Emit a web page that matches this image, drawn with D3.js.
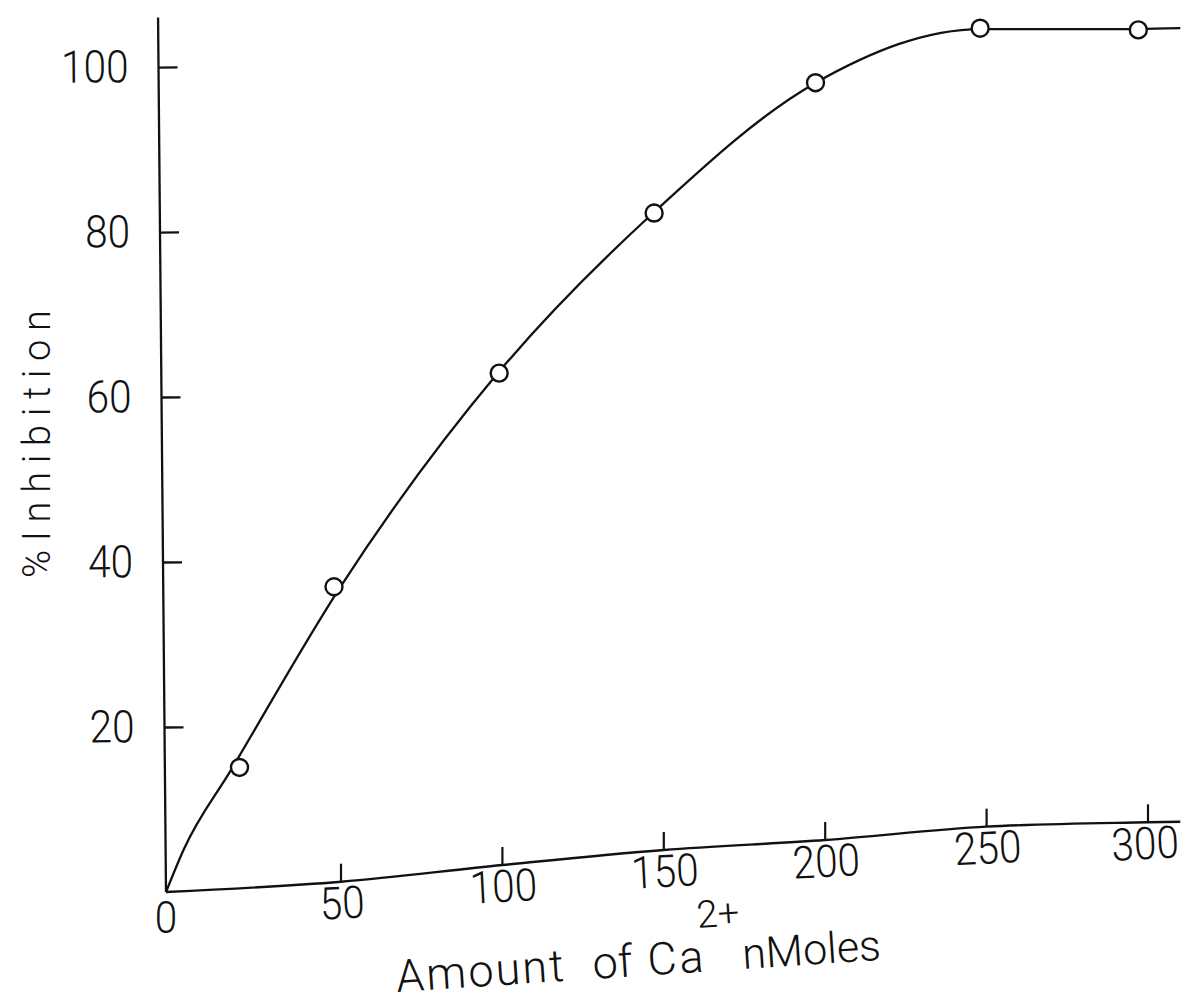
<!DOCTYPE html>
<html><head><meta charset="utf-8">
<script src="https://cdn.jsdelivr.net/npm/d3@7"></script>
<style>
html,body{margin:0;padding:0;background:#fff;}
svg{display:block;}
text{font-family:Roboto,"Liberation Sans",sans-serif;font-weight:300;fill:#111;}
</style></head><body>
<svg id="chart" width="1185" height="1004"></svg>
<script>
// ---- data ----
const caAmount   = [21, 48, 99, 147, 197, 248, 297];
const inhibition = [15.1, 37.0, 62.9, 82.3, 98.1, 104.7, 104.5];
// hand-drawn fitted curve
const fitX = [0, 5, 18.6, 49.7, 98.6, 146.7, 197.1, 248.3, 296.6, 310];
const fitY = [0, 5.1, 14.8, 36.9, 62.9, 82.3, 98.1, 104.6, 104.6, 104.7];
// drawn x-axis baseline (the scanned axis drifts upward)
const baselineX = [0, 50, 100, 150, 200, 250, 300, 310];
const baselineY = [0, 1.25, 3.27, 5.09, 6.30, 7.92, 8.45, 8.52];
const xTicks = [0, 50, 100, 150, 200, 250, 300];
const yTicks = [20, 40, 60, 80, 100];
const yAxisTop = 106;

const svg = d3.select("#chart");
const ink = "#111";

const x = d3.scaleLinear().domain([0, 50, 300]).range([166, 341, 1148]);
const y = d3.scaleLinear().domain([0, 100]).range([892, 67]);
const baseAt = d3.scaleLinear().domain(baselineX).range(baselineY);

// ---- y axis ----
const gy = svg.append("g")
  .attr("transform", `rotate(-0.52,166,892) translate(166,0)`)
  .call(d3.axisLeft(y).tickValues(yTicks).tickSizeInner(-19).tickSizeOuter(0).tickPadding(0));
gy.attr("font-family", null).attr("font-size", null);
gy.select(".domain").remove();
gy.append("line").attr("x1", 0).attr("x2", 0).attr("y1", y(0)).attr("y2", y(yAxisTop))
  .attr("stroke", ink).attr("stroke-width", 2.3);
gy.selectAll(".tick line").attr("stroke", ink).attr("stroke-width", 2.3);
gy.selectAll(".tick text").attr("font-size", 45).attr("x", 0)
  .attr("transform", "translate(-30,0) scale(0.9,1)");

// ---- x axis (curved baseline) ----
svg.append("path")
  .datum(d3.zip(baselineX, baselineY))
  .attr("fill", "none").attr("stroke", ink).attr("stroke-width", 2.4)
  .attr("d", d3.line().x(d => x(d[0])).y(d => y(d[1])).curve(d3.curveMonotoneX));

const gx = svg.append("g")
  .call(d3.axisBottom(x).tickValues(xTicks).tickSizeInner(-18).tickSizeOuter(0).tickPadding(5));
gx.attr("font-family", null).attr("font-size", null);
gx.select(".domain").remove();
gx.selectAll(".tick").attr("transform", d => `translate(${x(d)},${y(baseAt(d))})`);
gx.selectAll(".tick line").attr("stroke", ink).attr("stroke-width", 2.2).attr("opacity", d => d === 0 ? 0 : 1);
gx.selectAll(".tick text").attr("font-size", 45)
  .attr("transform", d => d === 0 ? "translate(0,4) scale(0.9,1)" : (d === 300 ? "translate(-4,0) rotate(-3) scale(0.9,1)" : "rotate(-3) scale(0.9,1)"));

// ---- fitted curve ----
svg.append("path")
  .datum(d3.zip(fitX, fitY))
  .attr("fill", "none").attr("stroke", ink).attr("stroke-width", 2.3)
  .attr("d", d3.line().x(d => x(d[0])).y(d => y(d[1])).curve(d3.curveMonotoneX));

// ---- points ----
svg.append("g").selectAll("circle")
  .data(d3.zip(caAmount, inhibition))
  .join("circle")
  .attr("cx", d => x(d[0])).attr("cy", d => y(d[1])).attr("r", 8.5)
  .attr("fill", "#fff").attr("stroke", ink).attr("stroke-width", 2.4);

// ---- axis titles ----
svg.append("text")
  .attr("transform", "translate(50,444) rotate(-90)")
  .attr("text-anchor", "middle")
  .attr("font-size", 38)
  .attr("textLength", 268).attr("lengthAdjust", "spacing")
  .text("%Inhibition");

const xl = svg.append("g").attr("transform", "translate(397,992) rotate(-3.8)");
xl.append("text").attr("x", 0).attr("font-size", 45).attr("textLength", 168).attr("lengthAdjust", "spacing").text("Amount");
xl.append("text").attr("x", 197).attr("font-size", 45).text("of");
xl.append("text").attr("x", 252).attr("font-size", 45).attr("textLength", 56).attr("lengthAdjust", "spacing").text("Ca");
xl.append("text").attr("x", 304).attr("y", -44).attr("font-size", 38).text("2+");
xl.append("text").attr("x", 347).attr("font-size", 43).text("nMoles");
</script>
</body></html>
